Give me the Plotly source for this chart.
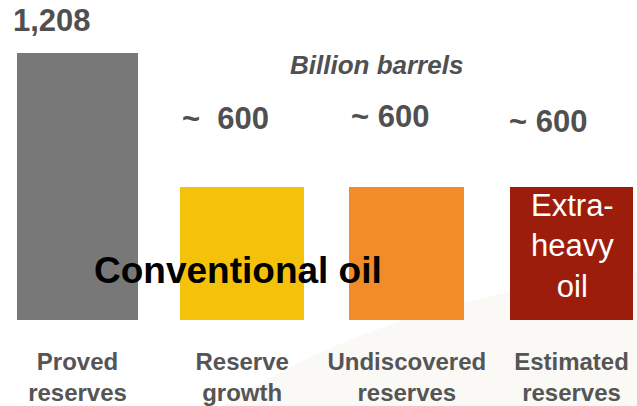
import plotly.graph_objects as go

# Oil resource estimates, billion barrels
categories = ["Proved<br>reserves", "Reserve<br>growth", "Undiscovered<br>reserves", "Estimated<br>reserves"]
values = [1208, 600, 600, 600]
value_labels = ["1,208", "~\u00a0\u00a0600", "~ 600", "~ 600"]
colors = ["#787878", "#F4C20A", "#F28C26", "#9C1D0B"]

W, H = 637, 406
BASE_PX = 320          # pixel row of the zero line
TOP_PX = 53            # pixel row of the tallest bar top
px_per_unit = (BASE_PX - TOP_PX) / values[0]
y_max = values[0] + TOP_PX / px_per_unit

x_idx = list(range(len(categories)))
slot = (571.5 - 77.5) / 3
x_lo = -77.5 / slot
x_hi = 3 + (W - 571.5) / slot

fig = go.Figure()
fig.add_trace(go.Bar(
    x=x_idx,
    y=values,
    width=[0.73, 0.75, 0.70, 0.75],
    marker=dict(color=colors, line=dict(width=0)),
    hoverinfo="skip",
))

def py(px):
    """Convert a pixel row to paper y."""
    return (BASE_PX - px) / BASE_PX

def px_x(px):
    return px / W

# soft beige swoosh in the lower right background
fig.add_shape(
    type="path",
    xref="paper", yref="paper",
    path=(f"M {px_x(225)} {py(406)} "
          f"Q {px_x(380)} {py(300)} {px_x(637)} {py(272)} "
          f"L {px_x(637)} {py(406)} Z"),
    fillcolor="#FBF9F5",
    line=dict(width=0),
    layer="below",
)

label_pos = [(52, 20), (225, 118), (390, 116), (548, 121)]
for (lx, ly), txt in zip(label_pos, value_labels):
    fig.add_annotation(
        x=px_x(lx), y=py(ly), xref="paper", yref="paper",
        text=f"<b>{txt}</b>", showarrow=False,
        font=dict(family="Liberation Sans, Arial", size=31, color="#505050"),
        xanchor="center", yanchor="middle",
    )

fig.add_annotation(
    x=px_x(376), y=py(65), xref="paper", yref="paper",
    text="<b><i>Billion barrels</i></b>", showarrow=False,
    font=dict(family="Liberation Sans, Arial", size=26, color="#505050"),
    xanchor="center", yanchor="middle",
)

fig.add_annotation(
    x=px_x(238), y=py(270), xref="paper", yref="paper",
    text="<b>Conventional oil</b>", showarrow=False,
    font=dict(family="Liberation Sans, Arial", size=37, color="#000000"),
    xanchor="center", yanchor="middle",
)

fig.add_annotation(
    x=px_x(572), y=py(246), xref="paper", yref="paper",
    text="Extra-<br>heavy<br>oil", showarrow=False,
    font=dict(family="Liberation Sans, Arial", size=31, color="#FFFFFF"),
    xanchor="center", yanchor="middle", align="center",
)

fig.update_xaxes(
    range=[x_lo, x_hi],
    tickmode="array", tickvals=x_idx, ticktext=[f"<b>{c}</b>" for c in categories],
    tickfont=dict(family="Liberation Sans, Arial", size=24, color="#555555"),
    showgrid=False, zeroline=False, showline=False, ticks="",
    ticklabelstandoff=25,
)
fig.update_yaxes(range=[0, y_max], visible=False, showgrid=False, zeroline=False)

fig.update_layout(
    width=W, height=H,
    margin=dict(l=0, r=0, t=0, b=H - BASE_PX),
    paper_bgcolor="white", plot_bgcolor="rgba(0,0,0,0)",
    showlegend=False, bargap=0,
)

fig.write_html("out.html")
